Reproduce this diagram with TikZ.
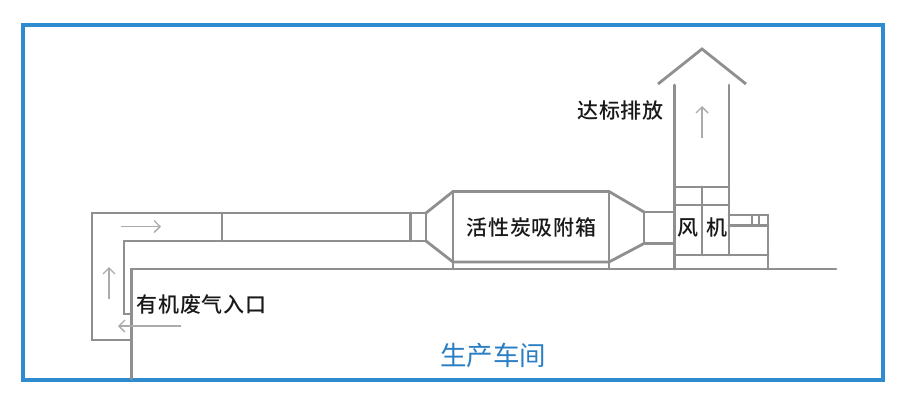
\documentclass[tikz,border=0pt]{standalone}
\usepackage{fontspec}
\newfontfamily\cjk{Noto Sans CJK SC Medium}
\newfontfamily\cjkreg{Noto Sans CJK SC}
\usetikzlibrary{arrows.meta}
\definecolor{duct}{HTML}{8F8F8F}
\definecolor{flow}{HTML}{ABABAB}
\definecolor{frameblue}{HTML}{2F8BD0}
\definecolor{roomblue}{HTML}{2A7FC4}
\tikzset{
  x=1pt,y=-1pt,
  duct/.style={draw=duct,line width=2.8pt,line cap=round,line join=miter},
  thin duct/.style={draw=duct,line width=2pt},
  flow/.style={draw=flow,line width=1.5pt,-{Straight Barb[length=6pt,width=12pt,line width=1.4pt]}},
  label/.style={font=\cjk\fontsize{21}{21}\selectfont,text=black!90,inner sep=0pt,anchor=center},
}
\begin{document}
\begin{tikzpicture}
\useasboundingbox (0,0) rectangle (908,410);
\fill[white] (0,0) rectangle (908,410);
\draw[draw=frameblue,line width=4.5pt] (23,25) rectangle (883,380);
% left ducts
\draw[duct] (131.5,340) -- (92,340) -- (92,213) -- (426,213);
\draw[duct] (131.5,314) -- (124,314) -- (124,241) -- (426,241);
\draw[duct] (222,213) -- (222,241);
\draw[duct] (410.5,213) -- (410.5,241);
\draw[duct] (426,213) -- (426,241);
% workshop floor
\draw[duct] (131.5,379) -- (131.5,269) -- (836,269);
% activated carbon box
\draw[duct] (426,213) -- (453,191.5) -- (609,191.5) -- (644,212);
\draw[duct] (426,241) -- (453,262) -- (609,262) -- (644,243.5);
\draw[duct] (453,191.5) -- (453,269);
\draw[duct] (609,191.5) -- (609,269);
% link to fan
\draw[duct] (644,212) -- (674.5,212);
\draw[duct] (644,243.5) -- (674.5,243.5);
\draw[duct] (644,212) -- (644,243.5);
% fan and chimney
\draw[duct] (674.5,85) -- (674.5,269);
\draw[duct] (729,85) -- (729,255);
\draw[duct] (702,187) -- (702,255);
\draw[duct] (674.5,187) -- (729,187);
\draw[duct] (674.5,205) -- (729,205);
\draw[duct] (674.5,255) -- (768,255);
\draw[duct] (729,215) -- (768,215) -- (768,269);
\draw[duct] (729,225.5) -- (768,225.5);
\draw[thin duct] (752,215) -- (752,225.5);
\draw[thin duct] (759,215) -- (759,225.5);
\draw[duct,line cap=butt] (658,84) -- (702,49) -- (746,84);
% flow arrows
\draw[flow] (121,226.5) -- (161,226.5);
\draw[flow] (109,299) -- (109,267);
\draw[flow] (181,326) -- (118,326);
\draw[flow] (702,138) -- (702,106);
% labels
\node[label] (inlet) at (201.5,305) {\addfontfeature{LetterSpace=3}有机废气入口};
\node[label] (box) at (531.5,227) {\addfontfeature{LetterSpace=3}活性炭吸附箱};
\node[label] (outlet) at (620.5,111) {\addfontfeature{LetterSpace=3}达标排放};
\node[label] (fanA) at (688,228) {风};
\node[label] (fanB) at (717,228) {机};
\node[label,font=\cjkreg\fontsize{26.5}{26.5}\selectfont,text=roomblue] (room) at (493,355) {生产车间};
\end{tikzpicture}
\end{document}
